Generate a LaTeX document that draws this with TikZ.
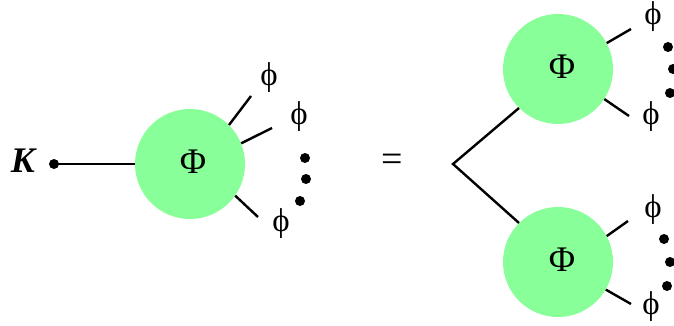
\documentclass[tikz,border=0pt]{standalone}
\usepackage{fontspec}
\setmainfont{Liberation Serif}
\begin{document}
\begin{tikzpicture}[x=1pt,y=-1pt,
  blob/.style={circle,fill=phigreen,minimum size=110pt,inner sep=0pt},
  bigphi/.style={inner sep=0pt,font=\fontsize{36}{36}\selectfont},
  leg/.style={line width=2.4pt,black},
  smallphi/.style={inner sep=0pt,font=\fontsize{33}{33}\selectfont},
  blackdot/.style={circle,fill=black,minimum size=10pt,inner sep=0pt}]
\definecolor{phigreen}{RGB}{136,255,153}
\useasboundingbox (0,0) rectangle (674,326);
% left
\node[inner sep=0pt,font=\fontsize{36}{36}\selectfont\bfseries\itshape] (K) at (23,161) {K};
\node[blackdot] (kd) at (54,164) {};
\node[blob] (L) at (190,164) {};
\node[bigphi] (Lt) at (193,162) {Φ};
\draw[leg] (kd.center) -- (L.west);
\coordinate (l1) at (251,96);
\coordinate (l2) at (272,128);
\coordinate (l3) at (258,217);
\draw[leg] (L.45) -- (l1);
\draw[leg] (L.22) -- (l2);
\draw[leg] (L.-35) -- (l3);
\node[smallphi] (p1) at (269,78) {ϕ};
\node[smallphi] (p2) at (299,117) {ϕ};
\node[smallphi] (p3) at (281,224) {ϕ};
\node[blackdot] (d1) at (305,158) {};
\node[blackdot] (d2) at (306,179) {};
\node[blackdot] (d3) at (300,201) {};
% equals
\node[inner sep=0pt,font=\fontsize{38}{38}\selectfont] (eq) at (392,163) {=};
% right
\coordinate (v) at (453,164);
\node[blob] (T) at (558,69) {};
\node[blob] (B) at (558,262) {};
\node[bigphi] (Tt) at (562,67) {Φ};
\node[bigphi] (Bt) at (562,260) {Φ};
\draw[leg] (T.-135) -- (v) -- (B.135);
\coordinate (t1) at (631,29);
\coordinate (t2) at (629,116);
\draw[leg] (T.28) -- (t1);
\draw[leg] (T.-33) -- (t2);
\node[smallphi] (tp1) at (653,17) {ϕ};
\node[smallphi] (tp2) at (651,117) {ϕ};
\node[blackdot] (td1) at (668,47) {};
\node[blackdot] (td2) at (673,69) {};
\node[blackdot] (td3) at (670,93) {};
\coordinate (b1) at (628,221);
\coordinate (b2) at (631,304);
\draw[leg] (B.28) -- (b1);
\draw[leg] (B.-30) -- (b2);
\node[smallphi] (bp1) at (653,210) {ϕ};
\node[smallphi] (bp2) at (651,307) {ϕ};
\node[blackdot] (bd1) at (664,239) {};
\node[blackdot] (bd2) at (670,262) {};
\node[blackdot] (bd3) at (667,286) {};
\end{tikzpicture}
\end{document}
